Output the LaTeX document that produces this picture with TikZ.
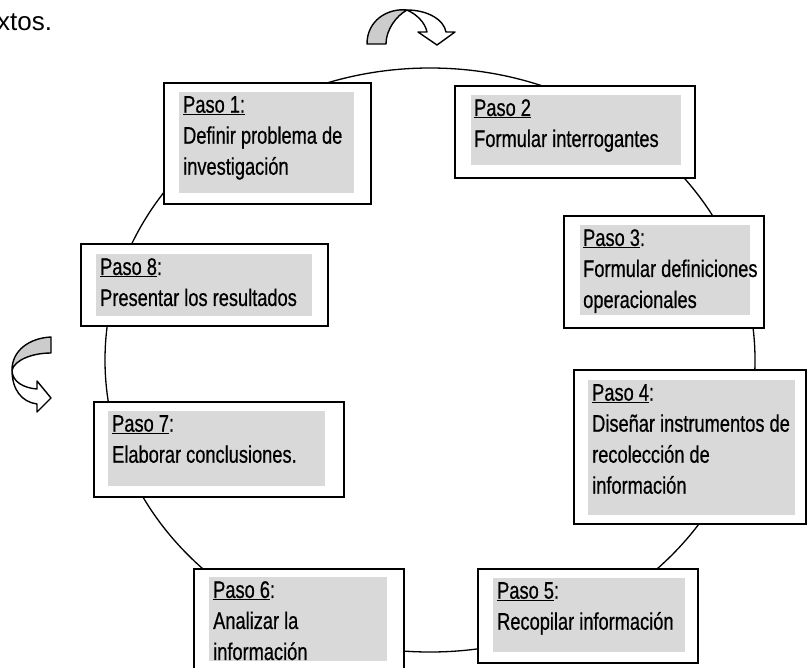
\documentclass[tikz,border=0pt]{standalone}
\usepackage{fontspec}
\setmainfont{Liberation Sans}
\newfontfamily\narrowfont[FakeStretch=0.76,FakeBold=0.6]{Liberation Sans}
\definecolor{boxgray}{HTML}{D9D9D9}
\definecolor{arrowgray}{HTML}{CCCCCC}
\begin{document}
\begin{tikzpicture}[x=1pt,y=-1pt,
 outerbox/.style={draw=black, line width=1.6pt, fill=white, anchor=north west, inner sep=0pt},
 graybox/.style={fill=boxgray, anchor=north west, inner sep=0pt},
 steptext/.style={anchor=north west, inner sep=0pt, align=left, font=\narrowfont\fontsize{24}{31}\selectfont},
 ring/.style={draw=black, line width=1.3pt},
 curlarrow/.style={draw=black, line width=1.4pt, line join=round}]
\useasboundingbox (0,0) rectangle (811,667);
\node[anchor=base west, inner sep=0pt, font=\fontsize{26}{30}\selectfont] (xt) at (-3,30) {xtos.};

\draw[ring] (430,360) ellipse [x radius=325, y radius=292];

% curved arrows
\draw[curlarrow, fill=arrowgray] (367,44) .. controls (367,20) and (388,8) .. (407,10) .. controls (396,16) and (386,30) .. (386,44) -- cycle;
\draw[curlarrow, fill=white] (407,10) .. controls (428,10) and (444,20) .. (446,32) -- (455,32) -- (437,45) -- (418,32) -- (427,32) .. controls (425,22) and (416,14) .. (407,10) -- cycle;

\draw[curlarrow, fill=arrowgray] (51,337) .. controls (30,338) and (12,350) .. (12,370) .. controls (15,360) and (32,353) .. (51,353) -- cycle;
\draw[curlarrow, fill=white] (12,370) .. controls (12,382) and (24,388) .. (37,389) -- (37,381) -- (51,398) -- (37,412) -- (37,404) .. controls (22,402) and (12,390) .. (12,370) -- cycle;

% Paso 1
\node[outerbox, minimum width=207pt, minimum height=121pt] (b1) at (163,82) {};
\node[graybox, minimum width=175pt, minimum height=101pt] (g1) at (179,92) {};
\node[steptext] (t1) at ([xshift=4pt,yshift=-4pt]g1.north west) {\underline{Paso 1:}\\Definir problema de\\investigación};

% Paso 2
\node[outerbox, minimum width=240pt, minimum height=92pt] (b2) at (454,85) {};
\node[graybox, minimum width=210pt, minimum height=70pt] (g2) at (471,95) {};
\node[steptext] (t2) at ([xshift=3pt,yshift=-4pt]g2.north west) {\underline{Paso 2}\\Formular interrogantes};

% Paso 3
\node[outerbox, minimum width=200pt, minimum height=112pt] (b3) at (563,215) {};
\node[graybox, minimum width=170pt, minimum height=90pt] (g3) at (580,225) {};
\node[steptext] (t3) at ([xshift=3pt,yshift=-4pt]g3.north west) {\underline{Paso 3}:\\Formular definiciones\\operacionales};

% Paso 4
\node[outerbox, minimum width=232pt, minimum height=154pt] (b4) at (573,369) {};
\node[graybox, minimum width=207pt, minimum height=135pt] (g4) at (588,380) {};
\node[steptext] (t4) at ([xshift=4pt,yshift=-4pt]g4.north west) {\underline{Paso 4}:\\Diseñar instrumentos de\\recolección de\\información};

% Paso 5
\node[outerbox, minimum width=220pt, minimum height=94pt] (b5) at (477,568) {};
\node[graybox, minimum width=192pt, minimum height=74pt] (g5) at (493,578) {};
\node[steptext] (t5) at ([xshift=4pt,yshift=-4pt]g5.north west) {\underline{Paso 5}:\\Recopilar información};

% Paso 6
\node[outerbox, minimum width=210pt, minimum height=120pt] (b6) at (193,568) {};
\node[graybox, minimum width=178pt, minimum height=84pt] (g6) at (209,577) {};
\node[steptext] (t6) at ([xshift=4pt,yshift=-4pt]g6.north west) {\underline{Paso 6}:\\Analizar la\\información};

% Paso 7
\node[outerbox, minimum width=250pt, minimum height=95pt] (b7) at (93,401) {};
\node[graybox, minimum width=217pt, minimum height=75pt] (g7) at (108,411) {};
\node[steptext] (t7) at ([xshift=4pt,yshift=-4pt]g7.north west) {\underline{Paso 7}:\\Elaborar conclusiones.};

% Paso 8
\node[outerbox, minimum width=247pt, minimum height=82pt] (b8) at (80,243) {};
\node[graybox, minimum width=216pt, minimum height=62pt] (g8) at (96,254) {};
\node[steptext] (t8) at ([xshift=4pt,yshift=-4pt]g8.north west) {\underline{Paso 8}:\\Presentar los resultados};
\end{tikzpicture}
\end{document}
